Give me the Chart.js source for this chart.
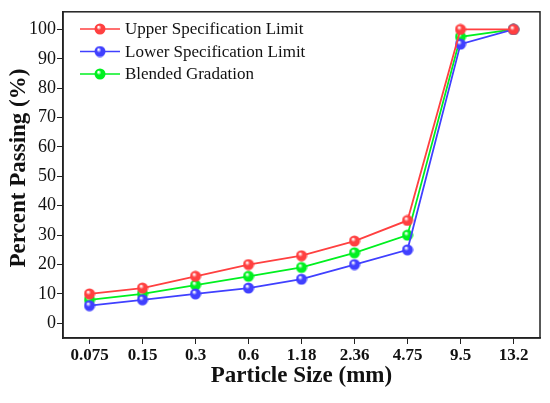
<!DOCTYPE html>
<html lang="en">
<head>
  <meta charset="UTF-8">
  <title>Particle Size Distribution</title>
  <script src="https://cdn.jsdelivr.net/npm/chart.js"></script>
  <style>
    html, body { margin: 0; padding: 0; background: #fff; }
    #wrap { width: 550px; height: 403px; }
  </style>
</head>
<body>
  <div id="wrap"><canvas id="grafico"></canvas></div>

  <script>
    const sizes = ["0.075", "0.15", "0.3", "0.6", "1.18", "2.36", "4.75", "9.5", "13.2"];
    const upperLimit = [10, 12, 16, 20, 23, 28, 35, 100, 100];
    const lowerLimit = [6, 8, 10, 12, 15, 20, 25, 95, 100];
    const blended = [8, 10, 13, 16, 19, 24, 30, 97.5, 100];
    const yTicks = [0, 10, 20, 30, 40, 50, 60, 70, 80, 90, 100];

    const RED = "#ff4040";
    const BLUE = "#4040ff";
    const GREEN = "#00f020";
    const FONT = "'Liberation Serif', 'Times New Roman', serif";

    // little shaded ball used as marker
    function ball(color) {
      const c = document.createElement("canvas");
      c.width = 12; c.height = 12;
      const g = c.getContext("2d");
      const grad = g.createRadialGradient(4.5, 4, 0.5, 6, 6, 6);
      grad.addColorStop(0, "#ffffff");
      grad.addColorStop(0.35, color);
      grad.addColorStop(1, color);
      g.fillStyle = grad;
      g.beginPath();
      g.arc(6, 6, 5.5, 0, Math.PI * 2);
      g.fill();
      return c;
    }

    const series = [
      { label: "Upper Specification Limit", data: upperLimit, color: RED },
      { label: "Lower Specification Limit", data: lowerLimit, color: BLUE },
      { label: "Blended Gradation", data: blended, color: GREEN }
    ];
    series.forEach(s => s.ball = ball(s.color));

    const frame = {
      id: "frame",
      afterDraw(chart) {
        const { ctx, chartArea: a } = chart;
        ctx.save();
        ctx.strokeStyle = "#222";
        ctx.lineWidth = 1.5;
        ctx.strokeRect(a.left, a.top, a.right - a.left, a.bottom - a.top);

        // y title, sits a bit above the centre like the original
        ctx.save();
        ctx.translate(19, 168);
        ctx.rotate(-Math.PI / 2);
        ctx.font = "bold 23px " + FONT;
        ctx.textAlign = "center";
        ctx.textBaseline = "middle";
        ctx.fillStyle = "#111";
        ctx.fillText("Percent Passing (%)", 0, 0);
        ctx.restore();

        // legend: line + ball, inside top-left
        ctx.font = "17px " + FONT;
        ctx.textBaseline = "middle";
        series.forEach((s, i) => {
          const y = 29 + i * 22.5;
          ctx.strokeStyle = s.color;
          ctx.lineWidth = 1.5;
          ctx.beginPath();
          ctx.moveTo(80, y);
          ctx.lineTo(120, y);
          ctx.stroke();
          ctx.drawImage(s.ball, 94, y - 6);
          ctx.fillStyle = "#111";
          ctx.fillText(s.label, 125, y + 1);
        });
        ctx.restore();
      }
    };

    new Chart(document.getElementById("grafico"), {
      type: "line",
      data: {
        labels: sizes,
        datasets: series.map(s => ({
          label: s.label,
          data: s.data,
          borderColor: s.color,
          borderWidth: 1.8,
          pointStyle: s.ball,
          tension: 0,
          fill: false
        }))
      },
      options: {
        responsive: true,
        maintainAspectRatio: false,
        animation: false,
        layout: { padding: { top: 5, right: 10, left: 0, bottom: 0 } },
        plugins: {
          legend: { display: false },
          tooltip: { enabled: false }
        },
        scales: {
          x: {
            offset: true,
            grid: { drawOnChartArea: false, color: "#222", tickLength: 6, offset: false },
            border: { color: "#222", width: 1.5 },
            ticks: {
              color: "#111",
              padding: 1,
              maxRotation: 0,
              font: { family: FONT, size: 17, weight: "bold" }
            },
            title: {
              display: true,
              text: "Particle Size (mm)",
              color: "#111",
              padding: { top: 0, bottom: 13 },
              font: { family: FONT, size: 23, weight: "bold" }
            },
            afterFit(scale) { scale.height = 65; }
          },
          y: {
            min: -5,
            max: 106,
            afterBuildTicks(scale) { scale.ticks = yTicks.map(v => ({ value: v })); },
            grid: { drawOnChartArea: false, color: "#222", tickLength: 6 },
            border: { color: "#222", width: 1.5 },
            ticks: {
              color: "#111",
              padding: 1,
              font: { family: FONT, size: 18 }
            },
            afterFit(scale) { scale.width = 63; }
          }
        }
      },
      plugins: [frame]
    });
  </script>
</body>
</html>
